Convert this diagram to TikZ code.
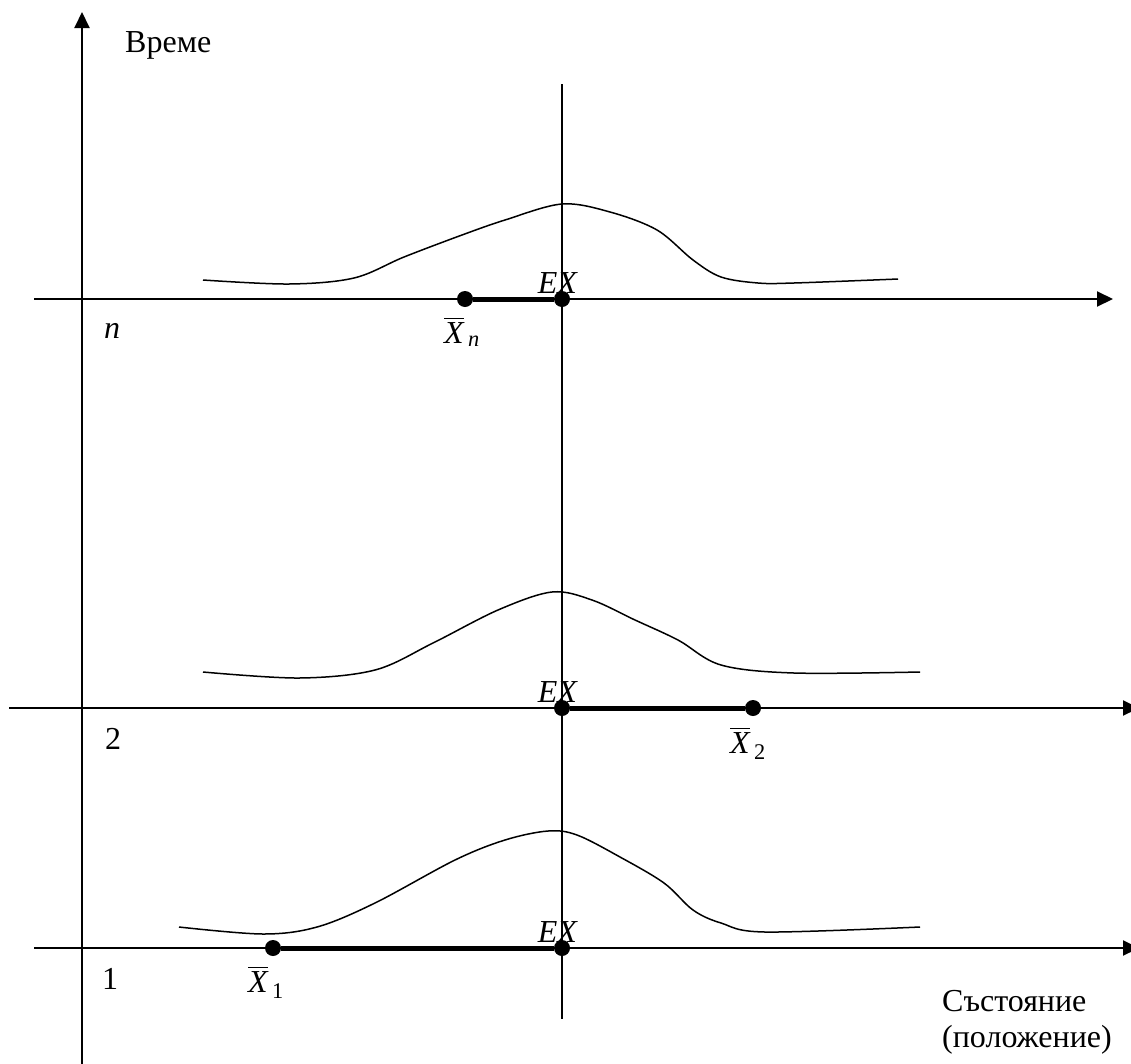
\documentclass[tikz,border=0pt]{standalone}
\usepackage{amsmath}
\usepackage{fontspec}
\setmainfont{Liberation Serif}
\usetikzlibrary{arrows.meta}
\newcommand\xbarlbl[1]{$\overline{\textit{X}}_{\mkern4mu\text{#1}}$}
\tikzset{
  axisline/.style={line width=2pt,-{Triangle[length=16pt,width=15pt]}},
  thinline/.style={line width=1.5pt},
  curveline/.style={line width=1.5pt},
  seg/.style={line width=5pt},
  dot/.style={circle,fill=black,inner sep=0pt,minimum size=16pt},
  lbl/.style={font=\fontsize{32}{38}\selectfont,inner sep=0pt,anchor=base},
  lblw/.style={font=\fontsize{32}{38}\selectfont,inner sep=0pt,anchor=base west}
}
\begin{document}
\begin{tikzpicture}[x=1pt,y=-1pt]
\useasboundingbox (0,0) rectangle (1131,1063);
% coordinates
\coordinate (vb) at (82,1070);
\coordinate (vt) at (82,12);
\coordinate (ct) at (562,84);
\coordinate (cb) at (562,1019);
\coordinate (ans) at (34,299);
\coordinate (ane) at (1113,299);
\coordinate (a2s) at (9,708);
\coordinate (a2e) at (1139,708);
\coordinate (a1s) at (34,948);
\coordinate (a1e) at (1139,948);
% axes
\draw[axisline] (vb) -- (vt);
\draw[thinline] (ct) -- (cb);
\draw[axisline] (ans) -- (ane);
\draw[axisline] (a2s) -- (a2e);
\draw[axisline] (a1s) -- (a1e);
% curves
\draw[curveline] plot[smooth,tension=0.55] coordinates {(203,280) (289,284) (354,278) (404,257) (462,235) (505,220) (562,204) (610,212) (657,230) (693,260) (721,277) (758,283) (794,283) (898,279)};
\draw[curveline] plot[smooth,tension=0.55] coordinates {(203,672) (299,678) (375,670) (433,643) (498,610) (552,592) (592,600) (635,620) (678,640) (721,665) (794,673) (920,672)};
\draw[curveline] plot[smooth,tension=0.55] coordinates {(179,927) (263,934) (317,927) (375,903) (455,860) (505,840) (548,831) (577,835) (620,857) (664,883) (693,910) (721,923) (765,932) (920,927)};
% dots
\node[dot] (xn) at (465,299) {};
\node[dot] (en) at (562,299) {};
\node[dot] (e2) at (562,708) {};
\node[dot] (x2) at (753,708) {};
\node[dot] (x1) at (273,948) {};
\node[dot] (e1) at (562,948) {};
\draw[seg] (xn) -- (en);
\draw[seg] (e2) -- (x2);
\draw[seg] (x1) -- (e1);
% labels
\node[lblw] (tlab) at (125,52) {Време};
\node[lblw] (slab1) at (942,1011) {Състояние};
\node[lblw] (slab2) at (942,1047) {(положение)};
\node[lbl] (ln) at (112,338) {\textit{n}};
\node[lbl] (l2) at (113,749) {2};
\node[lbl] (l1) at (110,989) {1};
\node[lbl] (exn) at (558,293) {\textit{EX}};
\node[lbl] (ex2) at (558,702) {\textit{EX}};
\node[lbl] (ex1) at (558,942) {\textit{EX}};
\node[lbl] (xbn) at (462,343) {\xbarlbl{\itshape n}};
\node[lbl] (xb2) at (748,753) {\xbarlbl{2}};
\node[lbl] (xb1) at (266,992) {\xbarlbl{1}};
\end{tikzpicture}
\end{document}
